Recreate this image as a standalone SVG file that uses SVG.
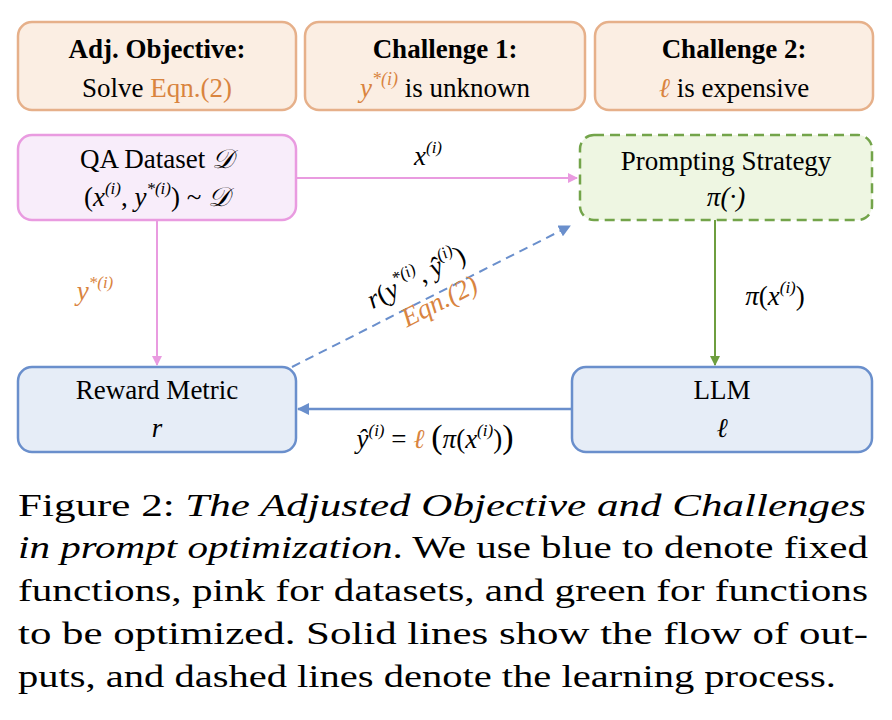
<svg xmlns="http://www.w3.org/2000/svg" width="892" height="720" viewBox="0 0 892 720">
<style>
text{font-family:"Liberation Serif","DejaVu Serif",serif;fill:#000}
.t{font-size:27px;text-anchor:middle}
.b{font-weight:bold}
.i{font-style:italic}
.o{fill:#D9843F}
.top{fill:#FBEEE3;stroke:#E6B08A;stroke-width:2.5}
.cap{font-size:32px}
</style>
<defs>
<marker id="mp" markerWidth="10" markerHeight="10" refX="9" refY="5" orient="auto" markerUnits="userSpaceOnUse"><path d="M0,0 L10,5 L0,10z" fill="#E99BE0"/></marker>
<marker id="mg" markerWidth="10" markerHeight="10" refX="9" refY="5" orient="auto" markerUnits="userSpaceOnUse"><path d="M0,0 L10,5 L0,10z" fill="#6E9E3F"/></marker>
<marker id="mb" markerWidth="12" markerHeight="12" refX="11" refY="6" orient="auto" markerUnits="userSpaceOnUse"><path d="M0,0 L12,6 L0,12z" fill="#6A8FCC"/></marker>
</defs>
<rect width="892" height="720" fill="#fff"/>
<g id="obj"><rect class="top" x="18" y="22" width="278" height="88" rx="14"/>
<text class="t b" x="157" y="58">Adj. Objective:</text>
<text class="t" x="157" y="97">Solve <tspan class="o">Eqn.(2)</tspan></text></g>
<g id="ch1"><rect class="top" x="305" y="22" width="280" height="88" rx="14"/>
<text class="t b" x="445" y="58">Challenge 1:</text>
<text class="t" x="445" y="97"><tspan class="o i">y</tspan><tspan class="o i" font-size="18" dy="-12">*(i)</tspan><tspan dy="12"> is unknown</tspan></text></g>
<g id="ch2"><rect class="top" x="595" y="22" width="278" height="88" rx="14"/>
<text class="t b" x="734" y="58">Challenge 2:</text>
<text class="t" x="734" y="97"><tspan class="o i">ℓ</tspan>  is expensive</text></g>

<g id="qa"><rect x="18" y="135" width="278" height="85" rx="14" fill="#F8EDFA" stroke="#E99BE0" stroke-width="2.5"/>
<text class="t" x="157" y="168">QA Dataset <tspan class="i">𝒟</tspan></text>
<text class="t" x="157" y="206" font-size="28">(<tspan class="i">x</tspan><tspan class="i" font-size="17" dy="-12">(i)</tspan><tspan dy="12">, </tspan><tspan class="i">y</tspan><tspan class="i" font-size="17" dy="-12">*(i)</tspan><tspan dy="12">) ~ </tspan><tspan class="i">𝒟</tspan></text></g>

<g id="ps"><rect x="580" y="135" width="292" height="85" rx="14" fill="#EEF6E2" stroke="#73A44A" stroke-width="2.5" stroke-dasharray="10,6"/>
<text class="t" x="726" y="170">Prompting Strategy</text>
<text class="t i" x="726" y="206">π(·)</text></g>

<g id="rm"><rect x="18" y="367" width="278" height="85" rx="14" fill="#E6EDF7" stroke="#6A8FCC" stroke-width="2.5"/>
<text class="t" x="157" y="399">Reward Metric</text>
<text class="t i" x="157" y="437">r</text></g>

<g id="llm"><rect x="572" y="367" width="300" height="85" rx="14" fill="#E6EDF7" stroke="#6A8FCC" stroke-width="2.5"/>
<text class="t" x="722" y="399">LLM</text>
<text class="t i" x="722" y="437">ℓ</text></g>

<g id="connectors" fill="none">
<line x1="296" y1="178" x2="577" y2="178" stroke="#E99BE0" stroke-width="2" marker-end="url(#mp)"/>
<line x1="157" y1="220" x2="157" y2="365" stroke="#E99BE0" stroke-width="2" marker-end="url(#mp)"/>
<line x1="715" y1="220" x2="715" y2="365" stroke="#6E9E3F" stroke-width="2" marker-end="url(#mg)"/>
<line x1="572" y1="409" x2="298" y2="409" stroke="#6A8FCC" stroke-width="2.5" marker-end="url(#mb)"/>
<line x1="292" y1="367" x2="570" y2="226" stroke="#6A8FCC" stroke-width="2" stroke-dasharray="9,6" marker-end="url(#mb)"/>
</g>
<g id="labels">
<text class="t i" x="428" y="165">x<tspan font-size="17" dy="-12">(i)</tspan></text>
<text class="t i o" x="95" y="300">y<tspan font-size="17" dy="-12">*(i)</tspan></text>
<text class="t" x="775" y="305"><tspan class="i">π</tspan>(<tspan class="i">x</tspan><tspan class="i" font-size="17" dy="-12">(i)</tspan><tspan dy="12">)</tspan></text>
<g transform="translate(420,285) rotate(-27)">
<text class="t" x="0" y="0"><tspan class="i">r</tspan>(<tspan class="i">y</tspan><tspan class="i" font-size="17" dy="-12">*(i)</tspan><tspan dy="12">, </tspan><tspan class="i">ŷ</tspan><tspan class="i" font-size="17" dy="-12">(i)</tspan><tspan dy="12">)</tspan></text>
<text class="t i o" x="10" y="32">Eqn.(2)</text></g>
<text class="t" x="435" y="448"><tspan class="i">ŷ</tspan><tspan class="i" font-size="17" dy="-12">(i)</tspan><tspan dy="12"> = </tspan><tspan class="i o">ℓ</tspan> <tspan font-size="34">(</tspan><tspan class="i">π</tspan>(<tspan class="i">x</tspan><tspan class="i" font-size="17" dy="-12">(i)</tspan><tspan dy="12">)</tspan><tspan font-size="34">)</tspan></text>
</g>
<g id="caption">
<text class="cap" x="18" y="516" textLength="848" lengthAdjust="spacingAndGlyphs">Figure 2:  <tspan class="i">The Adjusted Objective and Challenges</tspan></text>
<text class="cap" x="18" y="558" textLength="850" lengthAdjust="spacingAndGlyphs"><tspan class="i">in prompt optimization</tspan>. We use blue to denote fixed</text>
<text class="cap" x="18" y="601" textLength="850" lengthAdjust="spacingAndGlyphs">functions, pink for datasets, and green for functions</text>
<text class="cap" x="18" y="644" textLength="850" lengthAdjust="spacingAndGlyphs">to be optimized.  Solid lines show the flow of out-</text>
<text class="cap" x="18" y="687" textLength="818" lengthAdjust="spacingAndGlyphs">puts, and dashed lines denote the learning process.</text>
</g>
</svg>
